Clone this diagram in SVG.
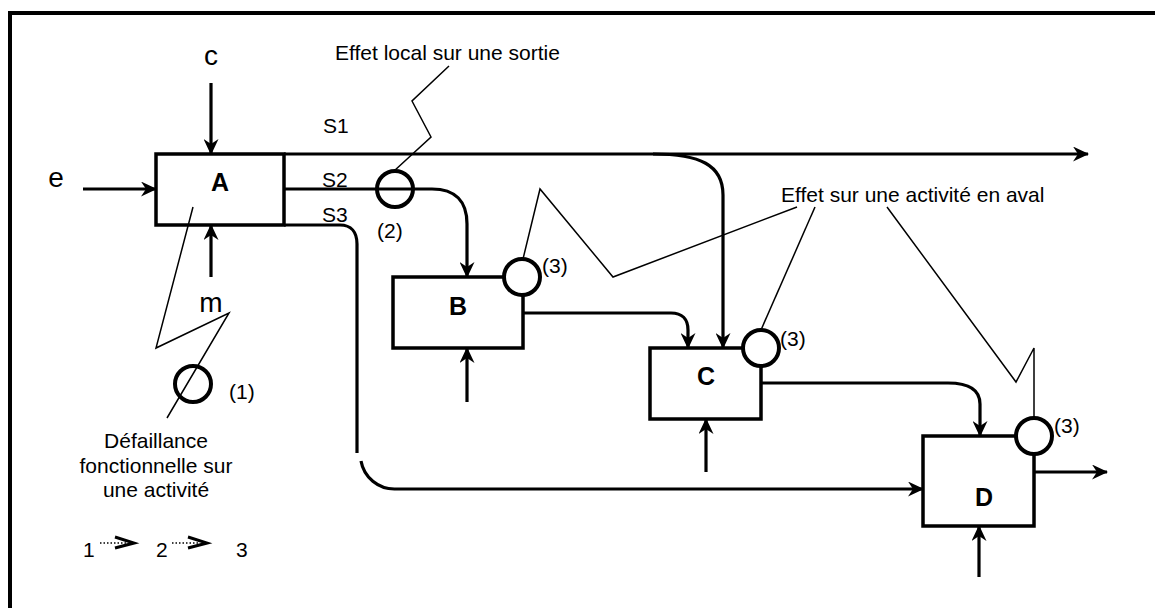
<svg xmlns="http://www.w3.org/2000/svg" width="1155" height="608" viewBox="0 0 1155 608">
<style>
text{font-family:"Liberation Sans",Arial,sans-serif;fill:#000}
.t{font-size:21px}
.big{font-size:28px}
.lbl{font-size:25px;font-weight:bold}
.box{fill:#fff;stroke:#000;stroke-width:3.5}
.cn{fill:none;stroke:#000;stroke-width:3.2}
.thin{fill:none;stroke:#000;stroke-width:1.5}
.circ{fill:#fff;stroke:#000;stroke-width:4}
.circo{fill:none;stroke:#000;stroke-width:4}
.dot{fill:none;stroke:#000;stroke-width:1.5;stroke-dasharray:1.5 2}
.chev{fill:none;stroke:#000;stroke-width:3}
</style>
<defs>
<marker id="ah" markerUnits="userSpaceOnUse" viewBox="0 0 16 15" refX="15" refY="7.5" markerWidth="16" markerHeight="15" orient="auto">
<path d="M0,0 L16,7.5 L0,15 L5,7.5 z" fill="#000"/>
</marker>
</defs>
<path d="M10,608 V13 H1155" fill="none" stroke="#000" stroke-width="4"/>

<g id="connectors">
<path class="cn" d="M211,83 V154" marker-end="url(#ah)"/>
<path class="cn" d="M83,189 H156" marker-end="url(#ah)"/>
<path class="cn" d="M211,277 V225" marker-end="url(#ah)"/>
<path class="cn" d="M284,154 H1088" marker-end="url(#ah)"/>
<path class="cn" d="M653,154 C700,154 723,165 723,195 V348" marker-end="url(#ah)"/>
<path class="cn" d="M284,189 H432 C455,189 467,201 467,224 V277" marker-end="url(#ah)"/>
<path class="cn" d="M284,225 H340 C351,225 357,232 357,244 V453"/>
<path class="cn" d="M361,461 A34,34 0 0 0 395,489 H923" marker-end="url(#ah)"/>
<path class="cn" d="M467,402 V348" marker-end="url(#ah)"/>
<path class="cn" d="M523,313 H671 C682,313 688,319 688,330 V348" marker-end="url(#ah)"/>
<path class="cn" d="M706,472 V419" marker-end="url(#ah)"/>
<path class="cn" d="M761,383 H948 C970,383 980,390 980,404 V436" marker-end="url(#ah)"/>
<path class="cn" d="M1034,472 H1107" marker-end="url(#ah)"/>
<path class="cn" d="M979,577 V526" marker-end="url(#ah)"/>
</g>

<g id="nodeA">
<rect class="box" x="156" y="154" width="128" height="71"/>
<text class="lbl" x="220" y="191" text-anchor="middle">A</text>
</g>
<g id="nodeB">
<rect class="box" x="393" y="277" width="130" height="71"/>
<text class="lbl" x="458" y="315" text-anchor="middle">B</text>
</g>
<g id="nodeC">
<rect class="box" x="650" y="348" width="111" height="71"/>
<text class="lbl" x="706" y="385" text-anchor="middle">C</text>
</g>
<g id="nodeD">
<rect class="box" x="923" y="436" width="111" height="90"/>
<text class="lbl" x="984" y="506" text-anchor="middle">D</text>
</g>

<g id="labels">
<text class="big" x="211" y="65" text-anchor="middle">c</text>
<text class="big" x="56" y="187" text-anchor="middle">e</text>
<text class="big" x="211" y="312" text-anchor="middle">m</text>
<text class="t" x="323" y="133">S1</text>
<text class="t" x="322" y="187">S2</text>
<text class="t" x="322" y="222">S3</text>
</g>

<g id="failure1">
<polyline class="thin" points="193,207 156,348 229,313 167,418"/>
<circle class="circo" cx="193" cy="384" r="18"/>
<text class="t" x="229" y="399">(1)</text>
<text class="t" x="156" y="448" text-anchor="middle">Défaillance</text>
<text class="t" x="156" y="473" text-anchor="middle">fonctionnelle sur</text>
<text class="t" x="156" y="497" text-anchor="middle">une activité</text>
</g>

<g id="effect2">
<text class="t" x="335" y="60">Effet local sur une sortie</text>
<polyline class="thin" points="449,66 412,101 431,137 394,171"/>
<circle class="circo" cx="395" cy="189" r="18"/>
<text class="t" x="377" y="238">(2)</text>
</g>

<g id="effect3">
<text class="t" x="781" y="202">Effet sur une activité en aval</text>
<polyline class="thin" points="797,207 613,277 540,189 523,259"/>
<polyline class="thin" points="815,207 761,330"/>
<polyline class="thin" points="887,207 1016,382 1034,348 1034,418"/>
<circle class="circ" cx="522" cy="277" r="18"/>
<text class="t" x="542" y="273">(3)</text>
<circle class="circ" cx="761" cy="348" r="18"/>
<text class="t" x="780" y="346">(3)</text>
<circle class="circ" cx="1034" cy="436" r="18"/>
<text class="t" x="1054" y="433">(3)</text>
</g>

<g id="legend">
<text class="t" x="83" y="557">1</text>
<line class="dot" x1="100" y1="543" x2="127" y2="543"/>
<polyline class="chev" points="115,537 134,543 115,548"/>
<text class="t" x="156" y="557">2</text>
<line class="dot" x1="172" y1="543" x2="199" y2="543"/>
<polyline class="chev" points="188,537 207,543 188,548"/>
<text class="t" x="236" y="557">3</text>
</g>
</svg>
